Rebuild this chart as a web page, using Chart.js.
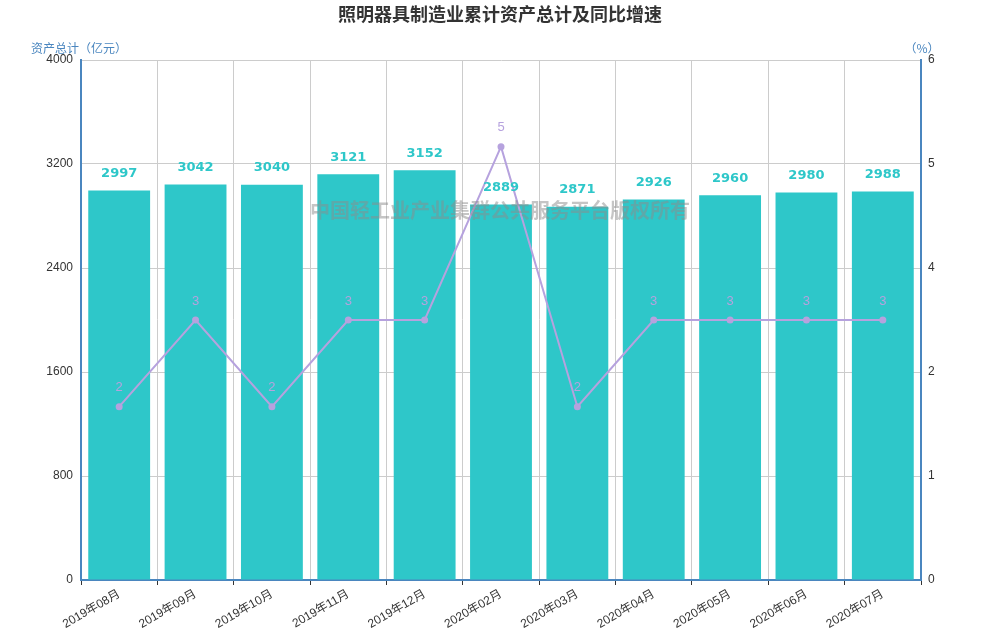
<!DOCTYPE html>
<html><head><meta charset="utf-8">
<script src="https://cdn.jsdelivr.net/npm/chart.js@4.4.1/dist/chart.umd.min.js"></script>
<style>html,body{margin:0;padding:0;background:#fff}#wrap{width:1000px;height:640px;position:relative}</style>
</head><body><div id="wrap"><canvas id="c"></canvas></div>
<script>
const categories = ['2019年08月','2019年09月','2019年10月','2019年11月','2019年12月','2020年02月','2020年03月','2020年04月','2020年05月','2020年06月','2020年07月'];
const assetValues = [2997,3042,3040,3121,3152,2889,2871,2926,2960,2980,2988];
const growthValues = [2,3,2,3,3,5,2,3,3,3,3];
const leftTicks = [0,800,1600,2400,3200,4000];
const rightTicks = [0,1.2,2.4,3.6,4.8,6];
const titleText = '照明器具制造业累计资产总计及同比增速';
const leftAxisName = '资产总计（亿元）';
const rightAxisName = '（%）';
const watermarkText = '中国轻工业产业集群公共服务平台版权所有';

const BAR = '#2ec7c9', LINE = '#b6a2de', AXIS = '#4a86bf', GRID = '#cccccc', TXT = '#333333';
const FONT = 'Arial, "Liberation Sans", "Noto Sans CJK SC", sans-serif';
const CJK = '"Noto Sans CJK SC", "Microsoft YaHei", sans-serif';

const decor = {
  id: 'decor',
  afterDatasetsDraw(chart) {
    const ctx = chart.ctx;
    ctx.save();
    const barMeta = chart.getDatasetMeta(1);
    ctx.font = 'bold 13px "DejaVu Sans", Arial, sans-serif';
    ctx.fillStyle = BAR; ctx.textAlign = 'center'; ctx.textBaseline = 'middle';
    barMeta.data.forEach((el, i) => { ctx.fillText(String(assetValues[i]), el.x, el.y - 17); });
    ctx.font = 'bold 20px ' + CJK;
    ctx.fillStyle = 'rgba(140,140,140,0.5)';
    ctx.fillText(watermarkText, 500, 210);
    const lineMeta = chart.getDatasetMeta(0);
    ctx.font = '13px ' + FONT;
    ctx.fillStyle = LINE;
    lineMeta.data.forEach((el, i) => { ctx.fillText(String(growthValues[i]), el.x, el.y - 19); });
    ctx.restore();
  },
  afterDraw(chart) {
    const ctx = chart.ctx;
    ctx.save();
    ctx.fillStyle = TXT; ctx.textAlign = 'center'; ctx.textBaseline = 'middle';
    ctx.font = 'bold 18px ' + CJK;
    ctx.fillText(titleText, 500, 14);
    ctx.font = '12px ' + CJK;
    ctx.fillStyle = AXIS;
    ctx.textAlign = 'left';
    ctx.fillText(leftAxisName, 31, 48);
    ctx.textAlign = 'center';
    ctx.fillText(rightAxisName, 922, 48);
    ctx.restore();
  }
};

new Chart(document.getElementById('c'), {
  data: {
    labels: categories,
    datasets: [
      { type: 'line', label: '同比增速', data: growthValues, yAxisID: 'y1', order: 0,
        borderColor: LINE, backgroundColor: LINE, borderWidth: 2, pointRadius: 3.5,
        pointBackgroundColor: LINE, pointBorderWidth: 0, tension: 0 },
      { type: 'bar', label: '资产总计', data: assetValues, yAxisID: 'y', order: 1,
        backgroundColor: BAR, barPercentage: 1, categoryPercentage: 0.81 }
    ]
  },
  options: {
    responsive: true, maintainAspectRatio: false, animation: false,
    layout: { padding: { top: 60, left: 0, right: 0, bottom: 0 } },
    plugins: { legend: { display: false }, tooltip: { enabled: false }, title: { display: false } },
    scales: {
      x: {
        offset: true,
        grid: { offset: true, color: GRID, tickLength: 5, tickColor: TXT, drawOnChartArea: true },
        border: { color: AXIS, width: 2 },
        ticks: { autoSkip: false, maxRotation: 30, minRotation: 30, color: TXT, padding: 2, font: { size: 12, family: FONT } },
        afterFit(s) { s.height = 60; }
      },
      y: {
        position: 'left', min: 0, max: 4000,
        afterBuildTicks(s) { s.ticks = leftTicks.map(v => ({ value: v })); },
        grid: { color: GRID, drawTicks: false },
        border: { color: AXIS, width: 2 },
        ticks: { color: TXT, padding: 8, font: { size: 12, family: FONT }, callback: v => String(v) },
        afterFit(s) { s.width = 81; }
      },
      y1: {
        position: 'right', min: 0, max: 6,
        afterBuildTicks(s) { s.ticks = rightTicks.map(v => ({ value: v })); },
        grid: { display: false, drawTicks: false },
        border: { color: AXIS, width: 2 },
        ticks: { color: TXT, padding: 7, font: { size: 12, family: FONT }, callback: v => String(Math.round(v)) },
        afterFit(s) { s.width = 79; }
      }
    }
  },
  plugins: [decor]
});
</script>
</body></html>
